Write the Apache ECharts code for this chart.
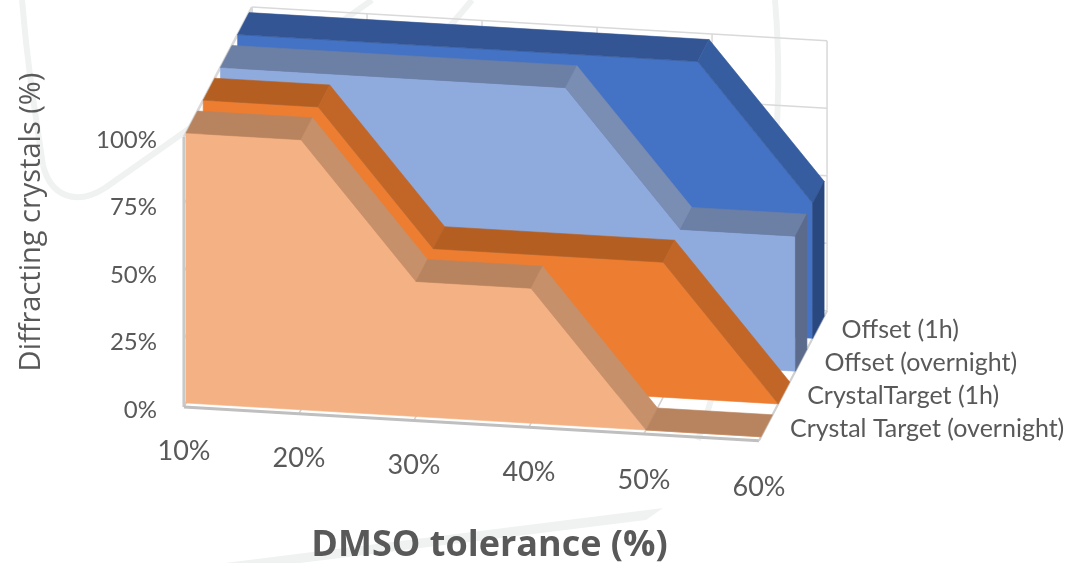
<!DOCTYPE html>
<html>
<head>
<meta charset="utf-8">
<title>DMSO tolerance</title>
<script src="https://cdn.jsdelivr.net/npm/echarts@6/dist/echarts.min.js"></script>
<style>
  html, body { margin: 0; padding: 0; background: #fff; }
  #chart { width: 1069px; height: 563px; }
</style>
</head>
<body>
<div id="chart"></div>
<script>
// values
var categories = ['10%', '20%', '30%', '40%', '50%', '60%'];
var yTicks = [0, 25, 50, 75, 100];
var seriesNames = ['Crystal Target (overnight)', 'CrystalTarget (1h)', 'Offset (overnight)', 'Offset (1h)'];
var crystalOvernight = [100, 100, 50, 50, 0, 0];
var crystal1h = [100, 100, 50, 50, 50, 0];
var offsetOvernight = [100, 100, 100, 100, 50, 50];
var offset1h = [100, 100, 100, 100, 100, 50];

// colours per series: front, flat top, sloped top, right side
var palette = [
  ['#F4B183', '#B8845F', '#C6906A', '#A87A5A'],
  ['#ED7D31', '#B45F21', '#C26627', '#A0541C'],
  ['#8FAADC', '#6C7FA5', '#7A8DB3', '#5C6B8C'],
  ['#4472C4', '#335593', '#365DA0', '#2A4880']
];

// fake 3d: excel style oblique projection on top of the cartesian axes
var SKEW_Y = 6.75, DEPTH_X = 17.2, DEPTH_Y = 32.8, THICK = 0.67;
var WALL_FRONT = -0.12, WALL_BACK = 3.84;
var TEXT = '#595959';
var SWOOSH = '#F0F2F2';

function project(api, i, v, d) {
  var p = api.coord([i, v]);
  return [p[0] + d * DEPTH_X, p[1] + i * SKEW_Y - d * DEPTH_Y];
}

function poly(points, color) {
  return {
    type: 'polygon',
    shape: { points: points },
    style: { fill: color, stroke: color, lineWidth: 0.6 }
  };
}

function line(a, b, color, width) {
  return {
    type: 'line',
    shape: { x1: a[0], y1: a[1], x2: b[0], y2: b[1] },
    style: { stroke: color, lineWidth: width, fill: null }
  };
}

function renderWalls(params, api) {
  var kids = [];
  var last = categories.length - 1;
  yTicks.forEach(function (t) {
    kids.push(line(project(api, 0, t, WALL_FRONT), project(api, 0, t, WALL_BACK), '#D9D9D9', 1.5));
    kids.push(line(project(api, 0, t, WALL_BACK), project(api, last, t, WALL_BACK), '#D9D9D9', 1.5));
  });
  categories.forEach(function (c, i) {
    kids.push(line(project(api, i, 0, WALL_BACK), project(api, i, 100, WALL_BACK), '#D9D9D9', 1.5));
    kids.push(line(project(api, i, 0, WALL_FRONT), project(api, i, 0, WALL_BACK), '#D0D0D0', 1.5));
    var p = project(api, i, 0, 0);
    kids.push({
      type: 'text',
      style: { x: p[0] - 2, y: p[1] + 48 + i * 0.5, text: c, font: '27px Lato, sans-serif', fill: TEXT, align: 'center', verticalAlign: 'middle' }
    });
  });
  kids.push(line(project(api, 0, 0, WALL_BACK), project(api, 0, 100, WALL_BACK), '#D9D9D9', 2));
  kids.push(line(project(api, 0, 100, WALL_FRONT), project(api, 0, 100, WALL_BACK), '#D9D9D9', 2.5));
  kids.push(line(project(api, 0, 0, WALL_FRONT), project(api, 0, 100, WALL_FRONT), '#C8C8C8', 3));
  kids.push(line(project(api, 0, 0, WALL_FRONT), project(api, last, 0, WALL_FRONT), '#BFBFBF', 3));
  kids.push(line(project(api, last, 0, WALL_FRONT), project(api, last, 0, WALL_BACK), '#D0D0D0', 2));
  return { type: 'group', children: kids };
}

function renderer(values, depthIndex) {
  var colors = palette[depthIndex];
  var last = values.length - 1;
  return function (params, api) {
    var i = params.dataIndex;
    var v = values[i];
    var d0 = depthIndex, d1 = depthIndex + THICK;
    var kids = [];
    if (i === 0) {
      // the whole front face in one piece, no seams
      var front = [project(api, 0, 0, d0), project(api, last, 0, d0)];
      for (var k = last; k >= 0; k--) {
        front.push(project(api, k, values[k], d0));
      }
      kids.push(poly(front, colors[0]));
    }
    if (i < last) {
      var w = values[i + 1];
      if (v !== w) {
        kids.push(poly([project(api, i, v, d0), project(api, i + 1, w, d0), project(api, i + 1, w, d1), project(api, i, v, d1)], colors[2]));
      } else if (i === 0 || values[i - 1] !== v) {
        // flat run, draw it once from its first point
        var end = i + 1;
        while (end < last && values[end + 1] === v) {
          end++;
        }
        kids.push(poly([project(api, i, v, d0), project(api, end, v, d0), project(api, end, v, d1), project(api, i, v, d1)], colors[1]));
      }
    } else {
      if (v > 0) {
        kids.push(poly([project(api, i, 0, d0), project(api, i, v, d0), project(api, i, v, d1), project(api, i, 0, d1)], colors[3]));
      }
      var p = project(api, i, 0, depthIndex);
      kids.push({
        type: 'text',
        style: { x: p[0] + 29, y: p[1] - 8, text: seriesNames[depthIndex], font: '25px Lato, sans-serif', fill: TEXT, align: 'left', verticalAlign: 'middle' }
      });
    }
    return { type: 'group', children: kids };
  };
}

function buildSeries(values, depthIndex) {
  return {
    name: seriesNames[depthIndex],
    type: 'custom',
    coordinateSystem: 'cartesian2d',
    encode: { x: 0, y: 1 },
    silent: true,
    renderItem: renderer(values, depthIndex),
    data: categories.map(function (c, i) { return [c, values[i]]; })
  };
}

var chart = echarts.init(document.getElementById('chart'), null, { renderer: 'canvas' });
chart.setOption({
  animation: false,
  backgroundColor: '#fff',
  // faint swooshes behind the plot
  graphic: [
    { type: 'bezierCurve', z: -10, silent: true, shape: { x1: 22, y1: 0, cpx1: 27, cpy1: 60, cpx2: 33, cpy2: 100, x2: 43, y2: 165 }, style: { fill: null, stroke: SWOOSH, lineWidth: 6 } },
    { type: 'bezierCurve', z: -10, silent: true, shape: { x1: 43, y1: 165, cpx1: 50, cpy1: 195, cpx2: 75, cpy2: 207, x2: 105, y2: 188 }, style: { fill: null, stroke: SWOOSH, lineWidth: 6 } },
    { type: 'line', z: -10, silent: true, shape: { x1: 105, y1: 188, x2: 372, y2: 0 }, style: { stroke: SWOOSH, lineWidth: 6 } },
    { type: 'line', z: -10, silent: true, shape: { x1: 472, y1: 0, x2: 430, y2: 50 }, style: { stroke: SWOOSH, lineWidth: 6 } },
    { type: 'bezierCurve', z: -10, silent: true, shape: { x1: 775, y1: 0, cpx1: 780, cpy1: 60, cpx2: 780, cpy2: 120, x2: 770, y2: 200 }, style: { fill: null, stroke: SWOOSH, lineWidth: 6 } },
    { type: 'polyline', z: -10, silent: true, shape: { points: [[770, 200], [708, 410], [698, 440]] }, style: { fill: null, stroke: SWOOSH, lineWidth: 6 } },
    { type: 'polygon', z: -10, silent: true, shape: { points: [[225, 563], [663, 508], [646, 520], [300, 563]] }, style: { fill: SWOOSH } }
  ],
  grid: { left: 186, right: 308, top: 133, bottom: 160, outerBoundsMode: 'none' },
  xAxis: {
    type: 'category',
    data: categories,
    boundaryGap: false,
    axisLine: { show: false },
    axisTick: { show: false },
    axisLabel: { show: false },
    splitLine: { show: false },
    name: 'DMSO tolerance (%)',
    nameLocation: 'middle',
    nameGap: 125,
    nameTextStyle: { fontFamily: 'Open Sans', fontWeight: 'bold', fontSize: 36, color: TEXT, padding: [0, 0, 0, 32] }
  },
  yAxis: {
    type: 'value',
    min: 0,
    max: 100,
    interval: 25,
    axisLine: { show: false },
    axisTick: { show: false },
    splitLine: { show: false },
    axisLabel: {
      formatter: '{a|{value}%}',
      margin: 29,
      rich: {
        a: { padding: [14, 0, 0, 0], fontFamily: 'Lato', fontSize: 24, color: TEXT }
      }
    },
    name: 'Diffracting crystals (%)',
    nameLocation: 'middle',
    nameGap: 140,
    nameTextStyle: { fontFamily: 'Open Sans', fontSize: 29, color: TEXT, padding: [0, 0, 0, 92] }
  },
  series: [
    {
      type: 'custom',
      coordinateSystem: 'cartesian2d',
      silent: true,
      renderItem: renderWalls,
      data: [[categories[0], yTicks[0]]]
    },
    buildSeries(offset1h, 3),
    buildSeries(offsetOvernight, 2),
    buildSeries(crystal1h, 1),
    buildSeries(crystalOvernight, 0)
  ]
});
</script>
</body>
</html>
